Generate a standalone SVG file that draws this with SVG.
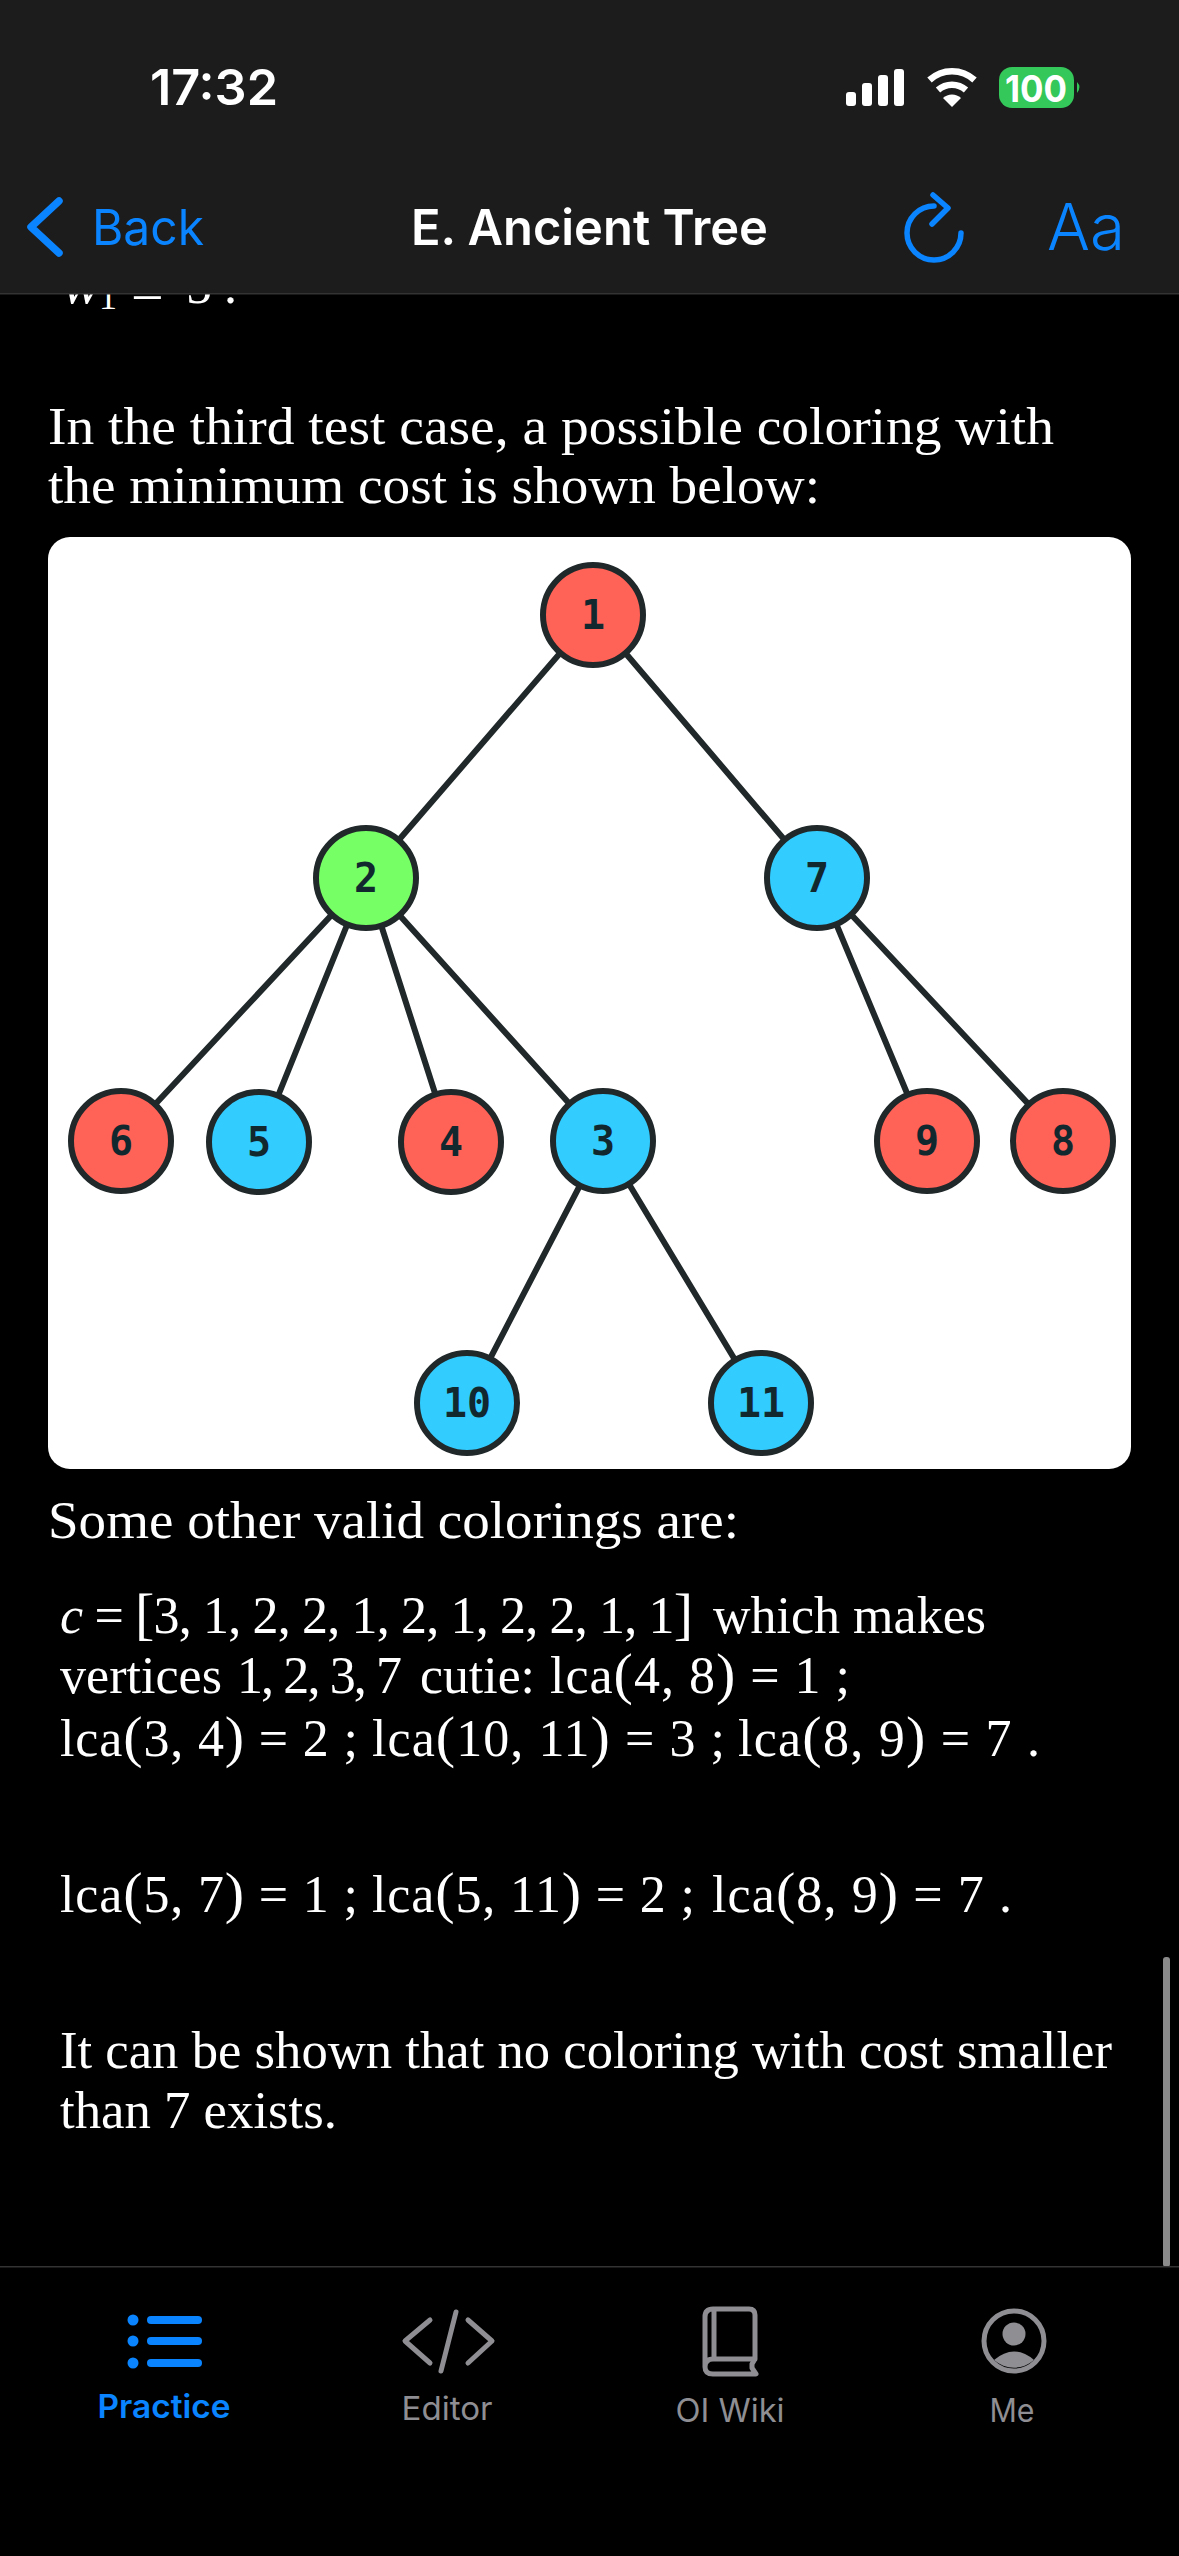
<svg xmlns="http://www.w3.org/2000/svg" width="1179" height="2556" viewBox="0 0 1179 2556">
<style>
.body{font-family:"Liberation Serif",serif;font-size:52px;fill:#fff}
.math{font-family:"Liberation Serif",serif;font-size:52px;fill:#fff}
.p{font-size:58px;font-weight:400}
.i{font-style:italic}
.nav{font-family:Inter,"Liberation Sans",sans-serif;fill:#0a84ff}
.tab{font-family:Inter,"Liberation Sans",sans-serif;font-size:32px;fill:#8e8e93;text-anchor:middle}
.edge{stroke:#20282a;stroke-width:6;stroke-linecap:round;fill:none}
.n{stroke:#20282a;stroke-width:6}
.red{fill:#ff6257}.blue{fill:#33ccff}.green{fill:#77ff66}
.lab{font-family:"DejaVu Sans Mono",monospace;font-size:40px;font-weight:700;fill:#12282f;text-anchor:middle}
.ic{fill:none;stroke:#8e8e93;stroke-width:5;stroke-linecap:round;stroke-linejoin:round}
.bl{fill:none;stroke:#0a84ff;stroke-linecap:round;stroke-linejoin:round}
</style>
<rect width="1179" height="2556" fill="#000"/>
<g id="clipped-line" class="math">
<text x="62" y="303" class="math i" style="font-size:58px">w</text>
<text x="99" y="309" style="font-size:36px">1</text>
<text x="131" y="311" style="font-size:58px">=</text>
<text x="186" y="303">5</text>
<text x="224" y="303">.</text>
</g>
<g id="header">
<rect width="1179" height="294" fill="#1c1c1c"/>
<rect y="293" width="1179" height="1.5" fill="#333"/>
<text x="150" y="105" style="font-family:Inter,'Liberation Sans',sans-serif;font-size:50px;font-weight:600;fill:#fff" textLength="128" lengthAdjust="spacingAndGlyphs">17:32</text>
<g fill="#fff"><rect x="846" y="92" width="10" height="14" rx="3"/><rect x="862" y="83" width="10" height="23" rx="3"/><rect x="878" y="75" width="10" height="31" rx="3"/><rect x="894" y="69" width="10" height="37" rx="3"/></g>
<g fill="none" stroke="#fff" stroke-width="6.5"><path d="M929.5 80a33 33 0 0 1 45 0"/><path d="M938 90a21 21 0 0 1 28 0"/></g>
<path d="M943 98a13 13 0 0 1 18 0l-9 9z" fill="#fff"/>
<rect x="999" y="67" width="75" height="41" rx="13" fill="#34c759"/>
<path d="M1077 82q5 5 0 11z" fill="#34c759"/>
<text x="1036" y="102" style="font-family:Inter,'Liberation Sans',sans-serif;font-size:37px;font-weight:700;fill:#fff;text-anchor:middle" textLength="62" lengthAdjust="spacingAndGlyphs">100</text>
<path class="bl" stroke-width="7.5" d="M59 201L31 227L59 253"/>
<text x="92" y="245" class="nav" style="font-size:49px" textLength="112" lengthAdjust="spacingAndGlyphs">Back</text>
<text x="411" y="245" style="font-family:Inter,'Liberation Sans',sans-serif;font-size:49px;font-weight:600;fill:#fff" textLength="357" lengthAdjust="spacingAndGlyphs">E. Ancient Tree</text>
<path class="bl" stroke-width="5.5" d="M934 206A27 27 0 1 0 961 233M933 195L948 208L932 224"/>
<text x="1047" y="250" class="nav" style="font-size:64px;font-weight:300" textLength="78" lengthAdjust="spacingAndGlyphs">Aa</text>
</g>
<g id="intro" class="body">
<text x="48" y="444" textLength="1006" lengthAdjust="spacingAndGlyphs">In the third test case, a possible coloring with</text>
<text x="48" y="503" textLength="772" lengthAdjust="spacingAndGlyphs">the minimum cost is shown below:</text>
</g>
<rect id="panel" x="48" y="537" width="1083" height="932" rx="22" fill="#fff"/>
<g id="connectors" class="edge">
<line x1="593" y1="615" x2="366" y2="878"/>
<line x1="593" y1="615" x2="817" y2="878"/>
<line x1="366" y1="878" x2="121" y2="1141"/>
<line x1="366" y1="878" x2="259" y2="1143"/>
<line x1="366" y1="878" x2="451" y2="1143"/>
<line x1="366" y1="878" x2="603" y2="1141"/>
<line x1="817" y1="878" x2="927" y2="1141"/>
<line x1="817" y1="878" x2="1063" y2="1141"/>
<line x1="603" y1="1141" x2="467" y2="1403"/>
<line x1="603" y1="1141" x2="761" y2="1403"/>
</g>
<g id="node-1"><circle class="n red" cx="593" cy="615" r="50"/><text class="lab" x="593" y="629">1</text></g>
<g id="node-2"><circle class="n green" cx="366" cy="878" r="50"/><text class="lab" x="366" y="892">2</text></g>
<g id="node-7"><circle class="n blue" cx="817" cy="878" r="50"/><text class="lab" x="817" y="892">7</text></g>
<g id="node-6"><circle class="n red" cx="121" cy="1141" r="50"/><text class="lab" x="121" y="1155">6</text></g>
<g id="node-5"><circle class="n blue" cx="259" cy="1142" r="50"/><text class="lab" x="259" y="1156">5</text></g>
<g id="node-4"><circle class="n red" cx="451" cy="1142" r="50"/><text class="lab" x="451" y="1156">4</text></g>
<g id="node-3"><circle class="n blue" cx="603" cy="1141" r="50"/><text class="lab" x="603" y="1155">3</text></g>
<g id="node-9"><circle class="n red" cx="927" cy="1141" r="50"/><text class="lab" x="927" y="1155">9</text></g>
<g id="node-8"><circle class="n red" cx="1063" cy="1141" r="50"/><text class="lab" x="1063" y="1155">8</text></g>
<g id="node-10"><circle class="n blue" cx="467" cy="1403" r="50"/><text class="lab" x="467" y="1417">10</text></g>
<g id="node-11"><circle class="n blue" cx="761" cy="1403" r="50"/><text class="lab" x="761" y="1417">11</text></g>
<g id="notes" class="math">
<text x="48" y="1538" class="body" textLength="691" lengthAdjust="spacingAndGlyphs">Some other valid colorings are:</text>
<text x="60" y="1633" textLength="633" lengthAdjust="spacing"><tspan class="i">c</tspan> = <tspan class="p">[</tspan>3, 1, 2, 2, 1, 2, 1, 2, 2, 1, 1<tspan class="p">]</tspan></text>
<text x="713" y="1633" class="body" textLength="273" lengthAdjust="spacingAndGlyphs">which makes</text>
<text x="60" y="1693" class="body" textLength="162" lengthAdjust="spacingAndGlyphs">vertices</text>
<text x="237" y="1693" textLength="165" lengthAdjust="spacing">1, 2, 3, 7</text>
<text x="420" y="1693" class="body" textLength="115" lengthAdjust="spacingAndGlyphs">cutie:</text>
<text x="550" y="1693" textLength="300" lengthAdjust="spacing">lca<tspan class="p">(</tspan>4, 8<tspan class="p">)</tspan> = 1 ;</text>
<text x="60" y="1756" textLength="298" lengthAdjust="spacing">lca<tspan class="p">(</tspan>3, 4<tspan class="p">)</tspan> = 2 ;</text>
<text x="372" y="1756" textLength="353" lengthAdjust="spacing">lca<tspan class="p">(</tspan>10, 11<tspan class="p">)</tspan> = 3 ;</text>
<text x="738" y="1756" textLength="302" lengthAdjust="spacing">lca<tspan class="p">(</tspan>8, 9<tspan class="p">)</tspan> = 7 .</text>
<text x="60" y="1912" textLength="298" lengthAdjust="spacing">lca<tspan class="p">(</tspan>5, 7<tspan class="p">)</tspan> = 1 ;</text>
<text x="372" y="1912" textLength="323" lengthAdjust="spacing">lca<tspan class="p">(</tspan>5, 11<tspan class="p">)</tspan> = 2 ;</text>
<text x="712" y="1912" textLength="300" lengthAdjust="spacing">lca<tspan class="p">(</tspan>8, 9<tspan class="p">)</tspan> = 7 .</text>
<text x="60" y="2068" class="body" textLength="1052" lengthAdjust="spacingAndGlyphs">It can be shown that no coloring with cost smaller</text>
<text x="60" y="2128" class="body" textLength="277" lengthAdjust="spacingAndGlyphs">than 7 exists.</text>
</g>
<rect id="scrollbar" x="1163" y="1957" width="7" height="310" rx="3" fill="#8a8a8a"/>
<g id="tabbar">
<rect y="2266" width="1179" height="1.5" fill="#333"/>
<g fill="#0a84ff"><circle cx="133" cy="2320" r="5.5"/><circle cx="133" cy="2341" r="5.5"/><circle cx="133" cy="2363" r="5.5"/><rect x="147" y="2316" width="55" height="8" rx="4"/><rect x="147" y="2337" width="55" height="8" rx="4"/><rect x="147" y="2359" width="55" height="8" rx="4"/></g>
<text x="164" y="2418" class="tab" style="fill:#0a84ff;font-weight:600" textLength="133" lengthAdjust="spacingAndGlyphs">Practice</text>
<path class="ic" d="M430 2320L405 2341L430 2363M468 2320L492 2341L468 2363M456 2312L441 2371"/>
<text x="447" y="2420" class="tab" textLength="91" lengthAdjust="spacingAndGlyphs">Editor</text>
<path class="ic" d="M713 2309H749Q755 2309 755 2315V2359L752 2364V2368L756 2374H713Q705 2374 705 2367V2317Q705 2309 713 2309ZM714 2309V2359M755 2359H713Q705 2359 705 2367"/>
<text x="730" y="2422" class="tab" textLength="109" lengthAdjust="spacingAndGlyphs">OI Wiki</text>
<circle class="ic" cx="1014" cy="2341" r="30"/>
<circle cx="1014" cy="2334" r="11.5" fill="#8e8e93"/>
<path d="M994 2360Q1014 2343 1034 2360A30 30 0 0 1 994 2360Z" fill="#8e8e93"/>
<text x="1012" y="2422" class="tab" textLength="45" lengthAdjust="spacingAndGlyphs">Me</text>
</g>
</svg>
